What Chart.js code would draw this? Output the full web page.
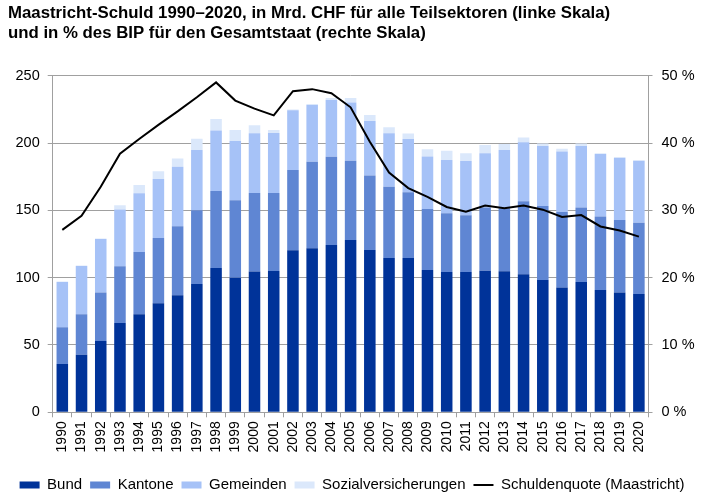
<!DOCTYPE html>
<html>
<head>
<meta charset="utf-8">
<script src="https://cdn.jsdelivr.net/npm/chart.js@4"></script>
<style>
  html, body { margin: 0; padding: 0; background: #fff; }
  #wrap { width: 708px; height: 500px; position: relative; }
</style>
</head>
<body>
<div id="wrap"><canvas id="c"></canvas></div>
<script>
const years = ['1990','1991','1992','1993','1994','1995','1996','1997','1998','1999','2000','2001','2002','2003','2004','2005','2006','2007','2008','2009','2010','2011','2012','2013','2014','2015','2016','2017','2018','2019','2020'];

const bund = [35.9,42.8,53.0,66.3,72.8,80.9,86.9,95.3,107.2,100.0,104.5,105.0,120.3,121.8,124.3,128.0,120.5,114.6,114.6,105.7,104.2,104.2,105.2,104.7,102.5,98.3,92.6,96.8,90.8,88.9,87.9];
const kantone = [27.2,30.0,35.9,42.1,46.3,48.6,51.2,54.7,57.2,57.4,58.4,57.9,59.7,64.2,65.4,58.8,55.3,53.0,48.8,45.2,43.7,42.1,46.9,46.8,54.2,55.0,56.1,55.3,54.7,53.9,52.9];
const gemeinden = [33.7,35.9,39.8,42.3,43.5,43.8,44.3,44.8,44.8,44.1,44.3,44.5,44.3,42.2,42.3,43.2,40.6,39.6,39.6,39.0,39.5,40.3,40.2,43.3,43.8,44.5,44.9,45.7,46.3,46.3,46.1];
const sozial = [0.3,0.3,0.3,3.0,6.2,5.7,6.0,8.4,8.6,8.2,5.9,2.3,0.5,0.8,1.5,3.4,4.4,4.5,4.0,5.5,6.8,5.7,6.2,4.5,3.5,1.8,2.2,1.8,0.5,0.3,0.2];
const quote = [27.1,29.2,33.5,38.4,40.6,42.7,44.7,46.8,49.0,46.3,45.1,44.1,47.7,48.0,47.4,45.3,40.2,35.6,33.3,32.0,30.5,29.8,30.7,30.3,30.7,30.1,29.0,29.3,27.6,27.0,26.1];

const titleLines = [
  'Maastricht-Schuld 1990\u20132020, in Mrd. CHF f\u00fcr alle Teilsektoren (linke Skala)',
  'und in % des BIP f\u00fcr den Gesamtstaat (rechte Skala)'
];
const seriesNames = ['Bund','Kantone','Gemeinden','Sozialversicherungen','Schuldenquote (Maastricht)'];
const barColors = ['#003399','#5f86d3','#a6c2f7','#dbe8fb'];

const FONT = "'Liberation Sans', Arial, Helvetica, sans-serif";
const GRID = '#a0a0a0';

const barSets = [bund, kantone, gemeinden, sozial].map((d, i) => ({
  type: 'bar',
  label: seriesNames[i],
  data: d,
  backgroundColor: barColors[i],
  borderWidth: 0,
  yAxisID: 'y',
  stack: 's',
  order: 1,
  pointStyle: 'rect',
  categoryPercentage: 0.6,
  barPercentage: 1.0
}));

const lineSet = {
  type: 'line',
  label: seriesNames[4],
  data: quote,
  borderColor: '#000000',
  backgroundColor: '#000000',
  borderWidth: 2,
  pointRadius: 0,
  tension: 0,
  yAxisID: 'y2',
  order: 0,
  pointStyle: 'line'
};

new Chart(document.getElementById('c'), {
  data: { labels: years, datasets: [...barSets, lineSet] },
  options: {
    responsive: true,
    maintainAspectRatio: false,
    animation: false,
    layout: { padding: { left: 8, right: 12, top: 0, bottom: -2.5 } },
    plugins: {
      title: {
        display: true,
        text: titleLines,
        align: 'start',
        color: '#000',
        font: { family: FONT, size: 16.8, weight: 'bold', lineHeight: 1.16 },
        padding: { top: 4, bottom: 32.7 }
      },
      legend: {
        position: 'bottom',
        labels: {
          usePointStyle: true,
          pointStyleWidth: 20,
          boxHeight: 7,
          padding: 8,
          color: '#000',
          font: { family: FONT, size: 15 },
          sort: (a, b) => a.datasetIndex - b.datasetIndex
        }
      },
      tooltip: { enabled: false }
    },
    scales: {
      x: {
        stacked: true,
        afterFit: s => { s.height = 57.2; },
        grid: { display: true, drawOnChartArea: false, drawTicks: true, tickLength: 5, offset: true, color: GRID },
        border: { display: true, color: GRID },
        ticks: { autoSkip: false, maxRotation: 90, minRotation: 90, padding: 4, color: '#000', font: { family: FONT, size: 14 } }
      },
      y: {
        stacked: true,
        position: 'left',
        min: 0, max: 250,
        afterFit: s => { s.width = 44.7; },
        grid: { color: GRID, tickLength: 5, drawTicks: true },
        border: { display: true, color: GRID },
        ticks: { stepSize: 50, padding: 8, color: '#000', font: { family: FONT, size: 14.5 } }
      },
      y2: {
        position: 'right',
        min: 0, max: 50,
        afterFit: s => { s.width = 47.5; },
        grid: { drawOnChartArea: false, tickLength: 4, drawTicks: true, color: GRID },
        border: { display: true, color: GRID },
        ticks: { stepSize: 10, padding: 9, color: '#000', font: { family: FONT, size: 14.5 }, callback: v => v + ' %' }
      }
    }
  }
});
</script>
</body>
</html>
